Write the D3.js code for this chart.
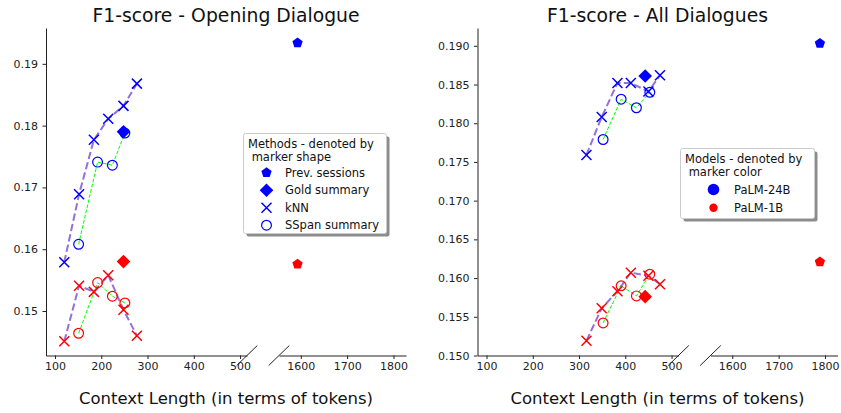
<!DOCTYPE html>
<html>
<head>
<meta charset="utf-8">
<script src="https://cdn.jsdelivr.net/npm/d3@7"></script>
<style>
  body { margin: 0; background: #fff; }
  svg { display: block; font-family: "DejaVu Sans", sans-serif; }
  .tick text { font-size: 11px; fill: #222; }
  .tick line { stroke: #222; }
  .domain { stroke: #222; }
</style>
</head>
<body>
<svg id="chart" width="841" height="413"></svg>
<script>
// ---- Opening dialogue ----
const knnLenOpen = [120, 152, 184, 215, 248, 277];
const knn24Open = [0.1579, 0.1689, 0.1777, 0.1811, 0.1832, 0.1868];
const knn1Open = [0.1451, 0.1541, 0.1531, 0.1558, 0.1502, 0.1460];
const sspanLenOpen = [151, 192, 224, 251];
const sspan24Open = [0.1608, 0.1741, 0.1736, 0.1788];
const sspan1Open = [0.1464, 0.1546, 0.1524, 0.1513];
const goldLenOpen = [248];
const gold24Open = [0.1790];
const gold1Open = [0.1580];
const prevLenOpen = [1593];
const prev24Open = [0.1934];
const prev1Open = [0.1576];

// ---- All dialogues ----
const knnLenAll = [316, 349, 383, 412, 450, 475];
const knn24All = [0.1759, 0.1808, 0.1852, 0.1852, 0.1841, 0.1862];
const knn1All = [0.1519, 0.1561, 0.1583, 0.1607, 0.1603, 0.1592];
const sspanLenAll = [352, 391, 424, 453];
const sspan24All = [0.1779, 0.1831, 0.1820, 0.1840];
const sspan1All = [0.1542, 0.1590, 0.1577, 0.1605];
const goldLenAll = [443];
const gold24All = [0.1861];
const gold1All = [0.1576];
const prevLenAll = [1789];
const prev24All = [0.1903];
const prev1All = [0.1621];

// ---- Axis ticks ----
const xTicksLow = [100, 200, 300, 400, 500];
const xTicksHigh = [1600, 1700, 1800];
const yTicksOpen = [0.15, 0.16, 0.17, 0.18, 0.19];
const yTicksAll = [0.150, 0.155, 0.160, 0.165, 0.170, 0.175, 0.180, 0.185, 0.190];

const titles = ["F1-score - Opening Dialogue", "F1-score - All Dialogues"];
const xLabel = "Context Length (in terms of tokens)";
const methodNames = ["Prev. sessions", "Gold summary", "kNN", "SSpan summary"];
const modelNames = ["PaLM-24B", "PaLM-1B"];
const modelColors = ["#0000ff", "#ff0000"];

const zip = (xs, ys) => xs.map((x, i) => [x, ys[i]]);

const panels = [
  {
    ox: 0, title: titles[0], yDomain: [0.1428, 0.1958], yTicks: yTicksOpen, yFmt: d3.format(".2f"),
    models: [
      { color: modelColors[0], knn: zip(knnLenOpen, knn24Open), sspan: zip(sspanLenOpen, sspan24Open),
        gold: zip(goldLenOpen, gold24Open), prev: zip(prevLenOpen, prev24Open) },
      { color: modelColors[1], knn: zip(knnLenOpen, knn1Open), sspan: zip(sspanLenOpen, sspan1Open),
        gold: zip(goldLenOpen, gold1Open), prev: zip(prevLenOpen, prev1Open) }
    ]
  },
  {
    ox: 431.5, title: titles[1], yDomain: [0.15, 0.1923], yTicks: yTicksAll, yFmt: d3.format(".3f"),
    models: [
      { color: modelColors[0], knn: zip(knnLenAll, knn24All), sspan: zip(sspanLenAll, sspan24All),
        gold: zip(goldLenAll, gold24All), prev: zip(prevLenAll, prev24All) },
      { color: modelColors[1], knn: zip(knnLenAll, knn1All), sspan: zip(sspanLenAll, sspan1All),
        gold: zip(goldLenAll, gold1All), prev: zip(prevLenAll, prev1All) }
    ]
  }
];

const svg = d3.select("#chart");
const axisY = 355.5, axisTop = 28;

function pentagonPath(r) {
  const pts = d3.range(5).map(k => {
    const a = -Math.PI / 2 + k * 2 * Math.PI / 5;
    return [r * Math.cos(a), r * Math.sin(a)];
  });
  return "M" + pts.map(p => p.join(",")).join("L") + "Z";
}
function diamondPath(r) { return `M0,${-r}L${r},0L0,${r}L${-r},0Z`; }
function crossPath(r) { return `M${-r},${-r}L${r},${r}M${-r},${r}L${r},${-r}`; }

function drawMarker(g, kind, x, y, color, size) {
  if (kind === "prev") {
    g.append("path").attr("d", pentagonPath(size || 5.4)).attr("transform", `translate(${x},${y})`).attr("fill", color);
  } else if (kind === "gold") {
    g.append("path").attr("d", diamondPath(size || 6.8)).attr("transform", `translate(${x},${y})`).attr("fill", color);
  } else if (kind === "knn") {
    g.append("path").attr("d", crossPath(size || 5)).attr("transform", `translate(${x},${y})`)
      .attr("stroke", color).attr("stroke-width", 1.5).attr("fill", "none");
  } else if (kind === "sspan") {
    g.append("circle").attr("cx", x).attr("cy", y).attr("r", size || 4.9)
      .attr("stroke", color).attr("stroke-width", 1.2).attr("fill", "none");
  } else if (kind === "dot") {
    g.append("circle").attr("cx", x).attr("cy", y).attr("r", size).attr("fill", color);
  }
}

panels.forEach(p => {
  const g = svg.append("g");
  const xLow = d3.scaleLinear().domain([80.5, 515]).range([46 + p.ox, 247 + p.ox]);
  const xHigh = d3.scaleLinear().domain([1553, 1827]).range([279 + p.ox, 406 + p.ox]);
  const xPos = v => (v < 1000 ? xLow(v) : xHigh(v));
  const y = d3.scaleLinear().domain(p.yDomain).range([axisY, axisTop]);

  // axes
  const gxL = g.append("g").attr("transform", `translate(0,${axisY})`)
    .call(d3.axisBottom(xLow).tickValues(xTicksLow).tickFormat(d3.format("d"))
      .tickSize(3.5).tickPadding(3.5).tickSizeOuter(0));
  const gxH = g.append("g").attr("transform", `translate(0,${axisY})`)
    .call(d3.axisBottom(xHigh).tickValues(xTicksHigh).tickFormat(d3.format("d"))
      .tickSize(3.5).tickPadding(3.5).tickSizeOuter(0));
  const gy = g.append("g").attr("transform", `translate(${46 + p.ox},0)`)
    .call(d3.axisLeft(y).tickValues(p.yTicks).tickFormat(p.yFmt).tickSize(3.5).tickPadding(4.5).tickSizeOuter(0));
  [gxL, gxH, gy].forEach(a => a.selectAll("text").attr("font-family", "DejaVu Sans, sans-serif").attr("font-size", 11));

  // break marks on the x axis
  [247 + p.ox, 279 + p.ox].forEach(cx => {
    g.append("line").attr("x1", cx - 10.3).attr("y1", axisY + 10).attr("x2", cx + 10.3).attr("y2", axisY - 10)
      .attr("stroke", "#222").attr("stroke-width", 1);
  });

  // connecting lines
  const line = d3.line().x(d => xPos(d[0])).y(d => y(d[1]));
  p.models.forEach(m => {
    g.append("path").datum(m.knn).attr("d", line).attr("fill", "none")
      .attr("stroke", "#9370DB").attr("stroke-width", 2).attr("stroke-dasharray", "7.4,3.2");
    g.append("path").datum(m.sspan).attr("d", line).attr("fill", "none")
      .attr("stroke", "#00ff00").attr("stroke-width", 1).attr("stroke-dasharray", "3.7,1.6");
  });

  // markers
  p.models.forEach(m => {
    ["knn", "sspan", "gold", "prev"].forEach(kind => {
      m[kind].forEach(d => drawMarker(g, kind, xPos(d[0]), y(d[1]), m.color));
    });
  });

  // titles
  g.append("text").attr("x", 226 + p.ox).attr("y", 22).attr("text-anchor", "middle")
    .attr("font-size", 18.8).attr("fill", "#111").text(p.title);
  g.append("text").attr("x", 226 + p.ox).attr("y", 404).attr("text-anchor", "middle")
    .attr("font-size", 16.5).attr("fill", "#111").text(xLabel);
});

// legends
function legendBox(x, y, w, h) {
  svg.append("rect").attr("x", x + 3).attr("y", y + 3).attr("width", w).attr("height", h)
    .attr("rx", 2).attr("fill", "#8c8c8c");
  svg.append("rect").attr("x", x).attr("y", y).attr("width", w).attr("height", h)
    .attr("rx", 2).attr("fill", "#fff").attr("stroke", "#cccccc").attr("stroke-width", 1);
}
function legendTitle(x, y, lines) {
  lines.forEach((t, i) => {
    svg.append("text").attr("x", x).attr("y", y + i * 13).attr("font-size", 11.5)
      .attr("fill", "#111").attr("xml:space", "preserve").style("white-space", "pre").text(t);
  });
}

// methods legend
legendBox(243.5, 133.5, 143, 100);
legendTitle(248, 147.5, ["Methods - denoted by", " marker shape"]);
const lg1 = svg.append("g");
const methodKinds = ["prev", "gold", "knn", "sspan"];
methodKinds.forEach((k, i) => {
  const yy = 172.7 + i * 17.5;
  drawMarker(lg1, k, 266.5, yy, modelColors[0]);
  lg1.append("text").attr("x", 285).attr("y", yy + 4).attr("font-size", 11.5).attr("fill", "#111").text(methodNames[i]);
});

// models legend
legendBox(680.5, 148.5, 134, 70);
legendTitle(685, 162.5, ["Models - denoted by", " marker color"]);
const lg2 = svg.append("g");
modelNames.forEach((n, i) => {
  const yy = 189.5 + i * 18.3;
  drawMarker(lg2, "dot", 713.5, yy, modelColors[i], i === 0 ? 5.8 : 4.2);
  lg2.append("text").attr("x", 734).attr("y", yy + 4).attr("font-size", 11.5).attr("fill", "#111").text(n);
});
</script>
</body>
</html>
